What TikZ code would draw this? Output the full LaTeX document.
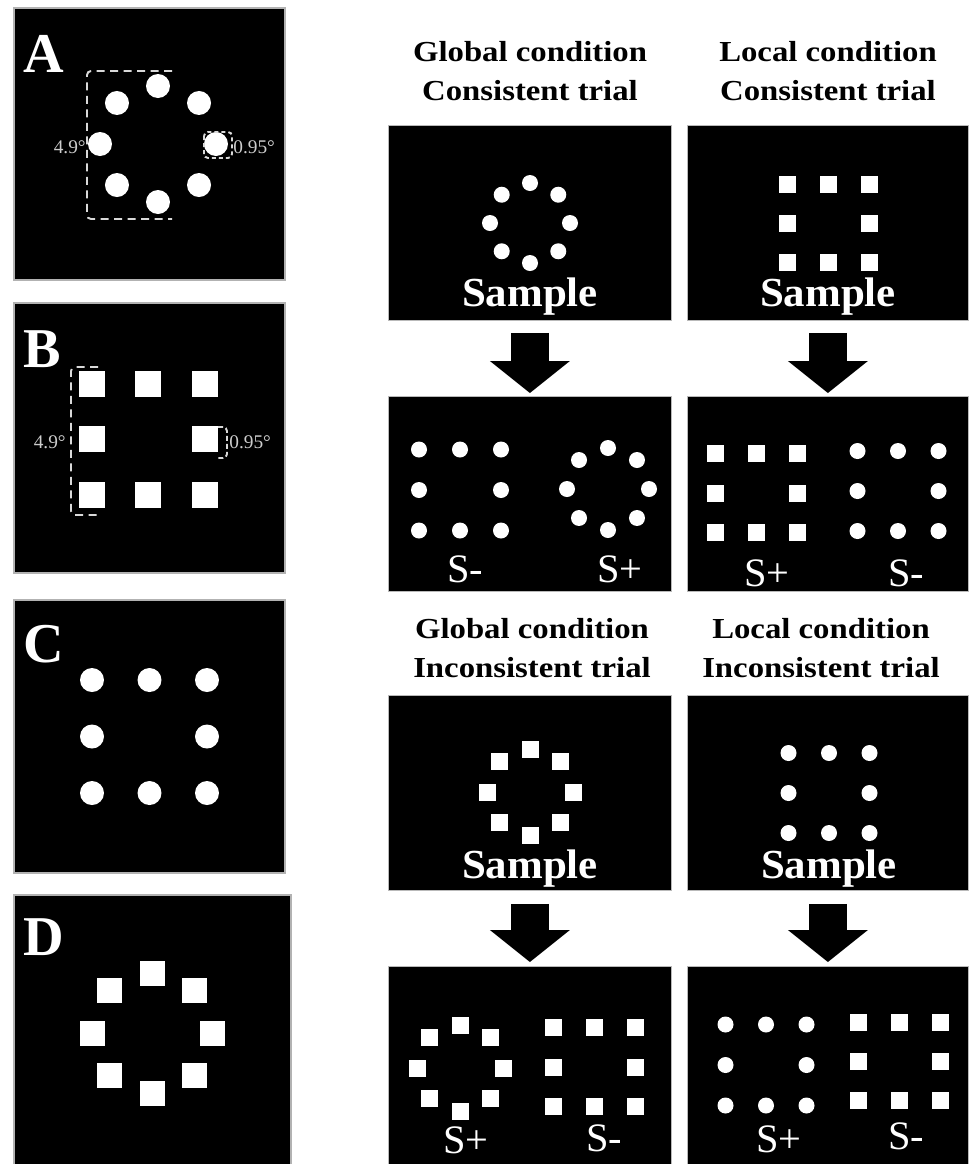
\documentclass[tikz,border=0pt]{standalone}
\usepackage{fontspec}
\setmainfont{Liberation Serif}
\usetikzlibrary{arrows.meta}

% the eight places of a 3x3 grid without its centre
\newcommand{\gridpos}{-1/-1,0/-1,1/-1,-1/0,1/0,-1/1,0/1,1/1}

\tikzset{
  scr/.style={fill=black, draw=gray!55, line width=0.5pt, inner sep=0pt, anchor=north west, minimum height=3.9cm},
  scrL/.style={scr, minimum width=5.66cm},
  scrR/.style={scr, minimum width=5.62cm},
  pnlbox/.style={fill=black, draw=gray!60, line width=0.6pt},
  hdr/.style={font=\bfseries\fontsize{16.5}{22.2}\selectfont, align=center, inner sep=0pt, anchor=south, xscale=1.13},
  smp/.style={font=\bfseries\fontsize{23.5}{28}\selectfont, text=white, inner sep=0pt, anchor=base, xscale=1.04},
  lbl/.style={font=\fontsize{23}{28}\selectfont, text=white, inner sep=0pt, anchor=base},
  pnl/.style={font=\bfseries\fontsize{32}{38}\selectfont, text=white, inner sep=0pt, anchor=base west},
  deg/.style={font=\fontsize{11}{13}\selectfont, text=white!80!black, inner sep=0pt},
  dimln/.style={draw=white!85!black, line width=1.1pt, dash pattern=on 0.16cm off 0.11cm, rounded corners=0.08cm},
  blockarr/.style={line width=0.76cm, -{Triangle[length=0.64cm, width=1.6cm, line width=0pt]}}
}

\begin{document}
\begin{tikzpicture}[x=0.02cm, y=-0.02cm]
\useasboundingbox (0,0) rectangle (971,1164);

%% left column: A-D
\draw[pnlbox] (14,8) rectangle (285,280);
\draw[pnlbox] (14,303) rectangle (285,573);
\draw[pnlbox] (14,600) rectangle (285,873);
\draw[pnlbox] (14,895) rectangle (291,1170);

% A
\foreach \a in {0,45,...,315} \fill[white, shift={(158,144)}] (\a:58) circle (0.24cm);
\draw[dimln] (172,71) -- (87,71) -- (87,219) -- (172,219);
\draw[dimln, dash pattern=on 0.08cm off 0.06cm] (204,132) rectangle (232,158);
\node[deg, anchor=east] (degA1) at (86,147) {4.9°};
\node[deg, anchor=west] (degA2) at (233,147) {0.95°};
\node[pnl] (labA) at (23,72) {A};

% B
\foreach \i/\j in \gridpos \fill[white] ({148+56.5*\i},{439+55.5*\j}) +(-13,-13) rectangle +(13,13);
\draw[dimln] (98,367) -- (71,367) -- (71,515) -- (98,515);
\draw[dimln, dash pattern=on 0.1cm off 0.06cm] (218,427) -- (227,427) -- (227,458) -- (218,458);
\node[deg, anchor=east] (degB1) at (66,442) {4.9°};
\node[deg, anchor=west] (degB2) at (229,442) {0.95°};
\node[pnl] (labB) at (23,367) {B};

% C
\foreach \i/\j in \gridpos \fill[white] ({149.5+57.5*\i},{736.5+56.5*\j}) circle (0.24cm);
\node[pnl] (labC) at (23,662) {C};

% D
\foreach \a in {0,45,...,315} \fill[white, shift={(152,1033)}] (\a:60) +(-12.5,-12.5) rectangle +(12.5,12.5);
\node[pnl] (labD) at (23,955) {D};

%% right part: consistent trials
\node[hdr] (gcHead) at (530,101) {Global condition\\Consistent trial};
\node[hdr] (lcHead) at (828,101) {Local condition\\Consistent trial};

\node[scrL] (gcSmp) at (388,125) {};
\node[scrR] (lcSmp) at (687,125) {};
\foreach \a in {0,45,...,315} \fill[white, shift={(530,223)}] (\a:40) circle (0.16cm);
\foreach \i/\j in \gridpos \fill[white] ({828+41*\i},{223+39*\j}) +(-8.5,-8.5) rectangle +(8.5,8.5);
\node[smp] (gcSmpTxt) at (530,306) {Sample};
\node[smp] (lcSmpTxt) at (828,306) {Sample};

\node[scrL] (gcCho) at (388,396) {};
\node[scrR] (lcCho) at (687,396) {};
\foreach \i/\j in \gridpos \fill[white] ({460+41*\i},{490+40.5*\j}) circle (0.16cm);
\foreach \a in {0,45,...,315} \fill[white, shift={(608,489)}] (\a:41) circle (0.16cm);
\foreach \i/\j in \gridpos \fill[white] ({756+41*\i},{493+39.5*\j}) +(-8.5,-8.5) rectangle +(8.5,8.5);
\foreach \i/\j in \gridpos \fill[white] ({898+40.5*\i},{491+40*\j}) circle (0.16cm);
\node[lbl] (gcMinus) at (465,582) {S-};
\node[lbl] (gcPlus) at (620,582) {S+};
\node[lbl] (lcPlus) at (767,586) {S+};
\node[lbl] (lcMinus) at (906,586) {S-};

\draw[blockarr] ([yshift=-0.24cm]gcSmp.south) -- ([yshift=0.06cm]gcCho.north);
\draw[blockarr] ([yshift=-0.24cm]lcSmp.south) -- ([yshift=0.06cm]lcCho.north);

%% inconsistent trials
\node[hdr] (giHead) at (532,678) {Global condition\\Inconsistent trial};
\node[hdr] (liHead) at (821,678) {Local condition\\Inconsistent trial};

\node[scrL] (giSmp) at (388,695) {};
\node[scrR] (liSmp) at (687,695) {};
\foreach \a in {0,45,...,315} \fill[white, shift={(530,792)}] (\a:43) +(-8.5,-8.5) rectangle +(8.5,8.5);
\foreach \i/\j in \gridpos \fill[white] ({829+40.5*\i},{793+40*\j}) circle (0.16cm);
\node[smp] (giSmpTxt) at (530,878) {Sample};
\node[smp] (liSmpTxt) at (829,878) {Sample};

\node[scrL, minimum height=4cm] (giCho) at (388,966) {};
\node[scrR, minimum height=4cm] (liCho) at (687,966) {};
\foreach \a in {0,45,...,315} \fill[white, shift={(460,1068)}] (\a:43) +(-8.5,-8.5) rectangle +(8.5,8.5);
\foreach \i/\j in \gridpos \fill[white] ({594+41*\i},{1067+39.5*\j}) +(-8.5,-8.5) rectangle +(8.5,8.5);
\foreach \i/\j in \gridpos \fill[white] ({766+40.5*\i},{1065+40.5*\j}) circle (0.16cm);
\foreach \i/\j in \gridpos \fill[white] ({899+41*\i},{1061+39*\j}) +(-8.5,-8.5) rectangle +(8.5,8.5);
\node[lbl] (giPlus) at (466,1153) {S+};
\node[lbl] (giMinus) at (604,1151) {S-};
\node[lbl] (liPlus) at (779,1152) {S+};
\node[lbl] (liMinus) at (906,1149) {S-};

\draw[blockarr] ([yshift=-0.26cm]giSmp.south) -- ([yshift=0.08cm]giCho.north);
\draw[blockarr] ([yshift=-0.26cm]liSmp.south) -- ([yshift=0.08cm]liCho.north);
\end{tikzpicture}
\end{document}
